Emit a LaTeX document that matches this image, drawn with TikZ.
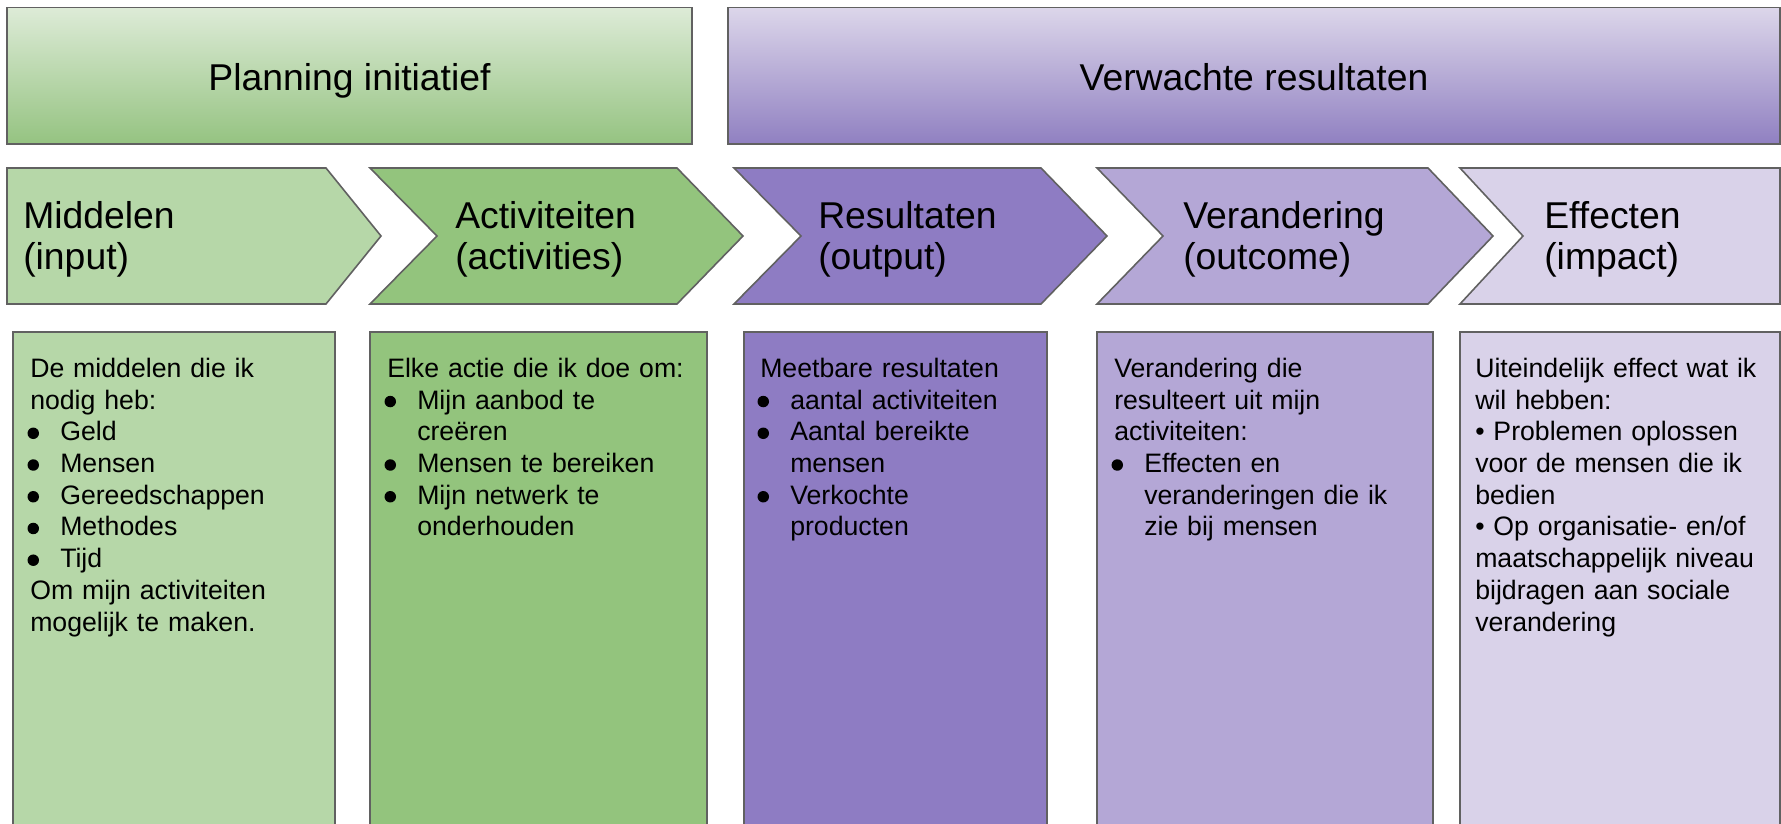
\documentclass[tikz,border=0pt]{standalone}
\usepackage{fontspec}
\setmainfont{Liberation Sans}
\definecolor{gone}{HTML}{B6D7A8}
\definecolor{gtwo}{HTML}{93C47D}
\definecolor{pone}{HTML}{8E7CC3}
\definecolor{ptwo}{HTML}{B4A7D6}
\definecolor{pthree}{HTML}{D9D2E9}
\definecolor{gtop}{HTML}{DDEBD7}
\definecolor{gbot}{HTML}{95C381}
\definecolor{ptop}{HTML}{DCD6EA}
\definecolor{pbot}{HTML}{9080C1}
\definecolor{edgecol}{HTML}{616161}
\newcommand\bdot{\tikz[baseline=0pt]\fill[black] (0pt,5.6pt) circle[radius=4.3pt];}
\newcommand\bitem{\makebox[22.5pt][l]{\hspace*{-2.05pt}\bdot}}
\newcommand\bcont{\hspace*{22.5pt}}
\tikzset{
  shp/.style={draw=edgecol, line width=1.2pt, line join=miter},
  hdr/.style={font=\fontsize{28pt}{30.75pt}\selectfont, inner sep=0pt},
  chevlabel/.style={font=\fontsize{28pt}{30.75pt}\selectfont, inner sep=0pt, anchor=north west, text width=300pt, align=left},
  bodytext/.style={font=\fontsize{20pt}{23.8pt}\selectfont, inner sep=0pt, anchor=north west, text width=260pt, align=left},
}
\begin{document}
\begin{tikzpicture}[x=0.75pt,y=-0.75pt]
\useasboundingbox (0,0) rectangle (1781,824);
% top boxes
\draw[shp, top color=gtop, bottom color=gbot] (7,7.5) rectangle (692,144);
\draw[shp, top color=ptop, bottom color=pbot] (728,7.5) rectangle (1780,144);
\node[hdr, anchor=base] (plan) at (349.5,90) {Planning initiatief};
\node[hdr, anchor=base] (verw) at (1254,90) {Verwachte resultaten};
% chevrons
\draw[shp, fill=gone] (7,168) -- (326,168) -- (381,236) -- (326,304) -- (7,304) -- cycle;
\draw[shp, fill=gtwo] (370,168) -- (677,168) -- (743,236) -- (677,304) -- (370,304) -- (437,236) -- cycle;
\draw[shp, fill=pone] (734,168) -- (1041,168) -- (1107,236) -- (1041,304) -- (734,304) -- (801,236) -- cycle;
\draw[shp, fill=ptwo] (1097,168) -- (1428,168) -- (1493,236) -- (1428,304) -- (1097,304) -- (1163,236) -- cycle;
\draw[shp, fill=pthree] (1460,168) -- (1780,168) -- (1780,304) -- (1460,304) -- (1523,236) -- cycle;
\node[chevlabel] (lone) at (23,199.6) {\strut Middelen\\(input)};
\node[chevlabel] (ltwo) at (455,199.6) {\strut Activiteiten\\(activities)};
\node[chevlabel] (lthree) at (818,199.6) {\strut Resultaten\\(output)};
\node[chevlabel] (lfour) at (1183,199.6) {\strut Verandering\\(outcome)};
\node[chevlabel] (lfive) at (1544,199.6) {\strut Effecten\\(impact)};
% bottom boxes
\begin{scope}
\clip (0,0) rectangle (1781,824);
\draw[shp, fill=gone] (13,332) rectangle (335,860);
\draw[shp, fill=gtwo] (370,332) rectangle (707,860);
\draw[shp, fill=pone] (744,332) rectangle (1047,860);
\draw[shp, fill=ptwo] (1097,332) rectangle (1433,860);
\draw[shp, fill=pthree] (1460,332) rectangle (1780,860);
\end{scope}
\node[bodytext] (tone) at (30,354.8) {\strut De middelen die ik\\
nodig heb:\\
\bitem Geld\\
\bitem Mensen\\
\bitem Gereedschappen\\
\bitem Methodes\\
\bitem Tijd\\
Om mijn activiteiten\\
mogelijk te maken.};
\node[bodytext] (ttwo) at (387,354.8) {\strut Elke actie die ik doe om:\\
\bitem Mijn aanbod te\\
\bcont creëren\\
\bitem Mensen te bereiken\\
\bitem Mijn netwerk te\\
\bcont onderhouden};
\node[bodytext] (tthree) at (760,354.8) {\strut Meetbare resultaten\\
\bitem aantal activiteiten\\
\bitem Aantal bereikte\\
\bcont mensen\\
\bitem Verkochte\\
\bcont producten};
\node[bodytext] (tfour) at (1114,354.8) {\strut Verandering die\\
resulteert uit mijn\\
activiteiten:\\
\bitem Effecten en\\
\bcont veranderingen die ik\\
\bcont zie bij mensen};
\node[bodytext] (tfive) at (1475,354.8) {\strut Uiteindelijk effect wat ik\\
wil hebben:\\
• Problemen oplossen\\
voor de mensen die ik\\
bedien\\
• Op organisatie- en/of\\
maatschappelijk niveau\\
bijdragen aan sociale\\
verandering};
\end{tikzpicture}
\end{document}
